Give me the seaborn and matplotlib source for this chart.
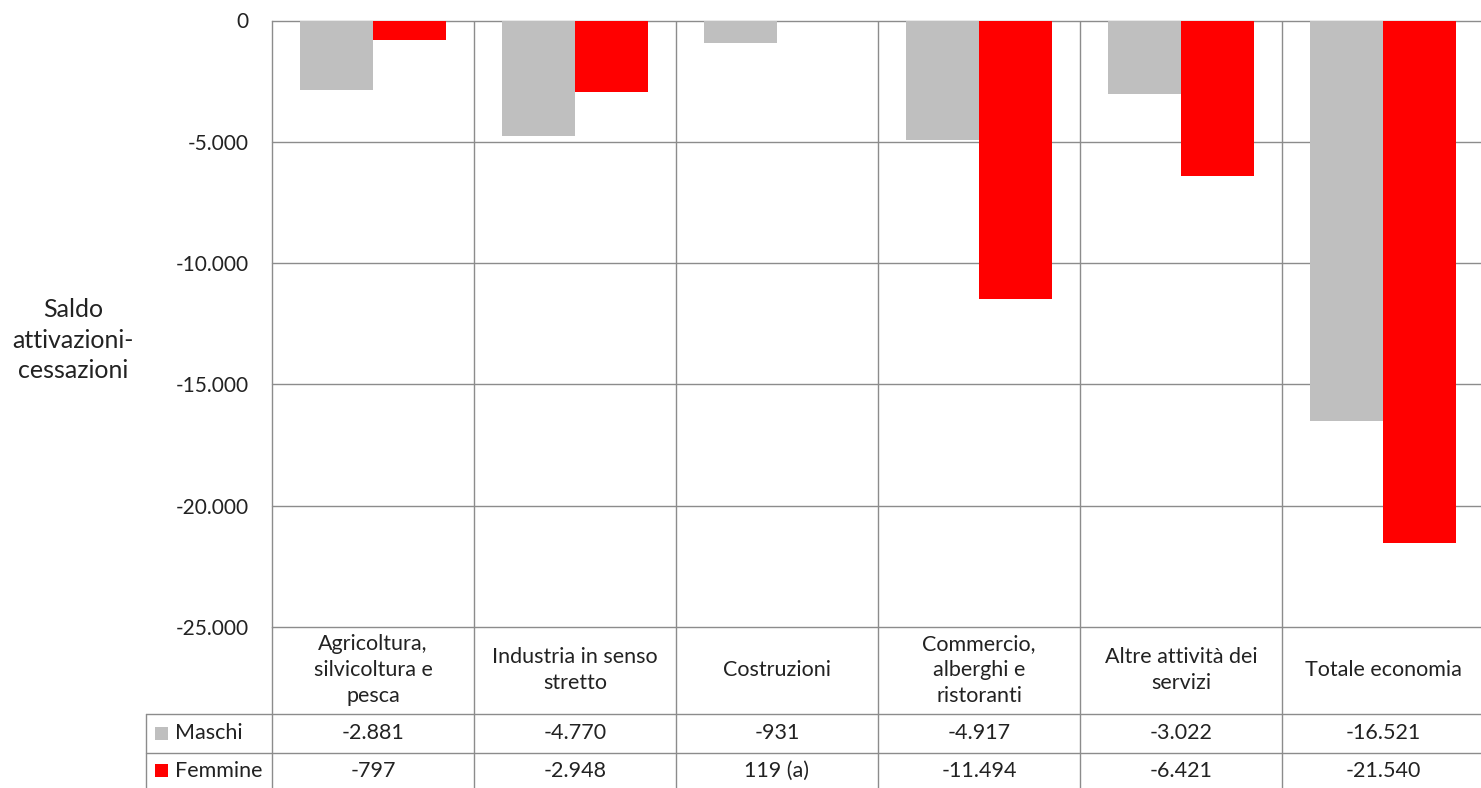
import pandas as pd
import matplotlib
matplotlib.use('Agg')
import matplotlib.pyplot as plt
from matplotlib.ticker import FuncFormatter
import seaborn as sns

# Data (saldo attivazioni-cessazioni by sector and sex)
settori = ['Agricoltura,\nsilvicoltura e\npesca', 'Industria in senso\nstretto', 'Costruzioni',
           'Commercio,\nalberghi e\nristoranti', 'Altre attività dei\nservizi', 'Totale economia']
maschi = [-2881, -4770, -931, -4917, -3022, -16521]
femmine = [-797, -2948, 119, -11494, -6421, -21540]
note_femmine = ['', '', ' (a)', '', '', '']
serie = ['Maschi', 'Femmine']
colori = ['#BFBFBF', '#FF0000']
y_ticks = [0, -5000, -10000, -15000, -20000, -25000]

df = pd.DataFrame({
    'Settore': settori * 2,
    'Saldo': maschi + femmine,
    'Sesso': ['Maschi'] * len(settori) + ['Femmine'] * len(settori),
})

sns.set_style('white')
plt.rcParams['font.family'] = ['Lato', 'DejaVu Sans']

W, H = 1481, 788
fig = plt.figure(figsize=(W / 100, H / 100), dpi=100)
grid_col = '#8C8C8C'
txt_col = '#222222'

# pixel layout
x0, cat_w = 272, 202
y_top, y_axis = 20.5, 627
ax = fig.add_axes([x0 / W, (H - y_axis) / H, len(settori) * cat_w / W, (y_axis - y_top) / H])

sns.barplot(data=df, x='Settore', y='Saldo', hue='Sesso', palette=colori, width=0.72,
            saturation=1, linewidth=0, legend=False, ax=ax)
ax.set_xlim(-0.5, len(settori) - 0.5)
ax.set_ylim(-25000, 0)
ax.set_yticks(y_ticks)
ax.yaxis.set_major_formatter(FuncFormatter(lambda v, p: f'{int(v):,}'.replace(',', '.')))
ax.tick_params(axis='y', length=6, width=1, color=grid_col, pad=11, labelsize=15, labelcolor=txt_col)
ax.set_xticks([])
ax.set_xlabel('')
ax.set_ylabel('Saldo\nattivazioni-\ncessazioni', rotation=0, fontsize=18, linespacing=1.4,
              color=txt_col, ha='center', va='center')
ax.yaxis.set_label_coords(-(x0 - 73) / (len(settori) * cat_w), 1 - (340 - y_top) / (y_axis - y_top))
for v in y_ticks:
    ax.axhline(v, color=grid_col, lw=1, zorder=0, clip_on=False)
for i in range(len(settori) - 1):
    ax.axvline(i + 0.5, color=grid_col, lw=1, zorder=0)
for s in ['top', 'right', 'bottom']:
    ax.spines[s].set_visible(False)
ax.spines['left'].set_color(grid_col)
ax.spines['left'].set_linewidth(1)

# Data table under the chart
tb = fig.add_axes([x0 / W, 0, len(settori) * cat_w / W, (H - y_axis) / H])
tb.set_xlim(-0.5, len(settori) - 0.5)
tb.set_ylim(H, y_axis)
tb.axis('off')
left_x = -0.5 - (x0 - 146) / cat_w
row_lines = [714, 753]
row_mid = [733.5, 771]
for yl in row_lines:
    tb.plot([left_x, len(settori) - 0.5], [yl, yl], color=grid_col, lw=1, clip_on=False)
tb.plot([left_x, left_x], [row_lines[0], H], color=grid_col, lw=1, clip_on=False)
for i in range(len(settori)):
    tb.plot([i - 0.5, i - 0.5], [y_axis, H], color=grid_col, lw=1, clip_on=False)
    tb.text(i, 670, settori[i], ha='center', va='center', fontsize=15.5, linespacing=1.35, color=txt_col)
    tb.text(i, row_mid[0], f'{maschi[i]:,}'.replace(',', '.'), ha='center', va='center',
            fontsize=15.5, color=txt_col)
    tb.text(i, row_mid[1], f'{femmine[i]:,}'.replace(',', '.') + note_femmine[i], ha='center',
            va='center', fontsize=15.5, color=txt_col)
sq = 13 / cat_w
for name, col, ym in zip(serie, colori, row_mid):
    tb.add_patch(plt.Rectangle((left_x + 9 / cat_w, ym - 6.5), sq, 13, color=col, clip_on=False, lw=0))
    tb.text(left_x + 29 / cat_w, ym, name, ha='left', va='center', fontsize=15.5, color=txt_col)

fig.savefig('out.png', dpi=100)
